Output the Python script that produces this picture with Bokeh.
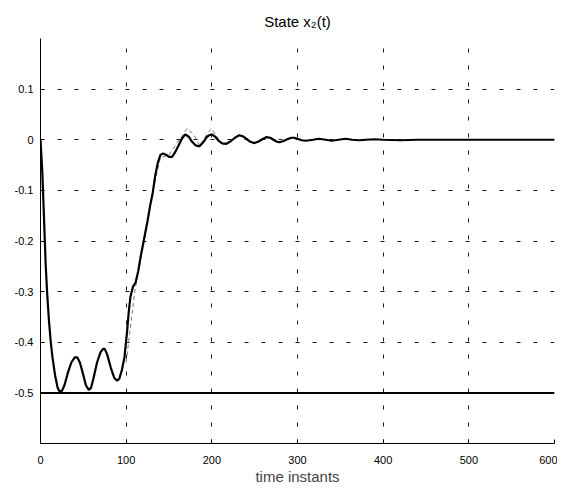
from bokeh.plotting import figure
from bokeh.models import Range1d, FixedTicker, Title
from bokeh.embed import file_html
from bokeh.resources import INLINE

# ---- data ----
t_state = [0, 2, 4, 6, 8, 10, 12, 14, 17, 20, 22.5, 25, 28, 32, 36, 40, 43, 46, 50, 53,
           56.4, 59, 62, 66, 70, 73, 75, 78, 82, 86, 89.5, 92, 95, 98, 101, 103, 105, 108,
           111, 114, 117, 121, 125, 128, 131, 134, 137, 140, 143, 147, 150, 153.6, 157, 161,
           165, 169, 173, 177, 181, 185.5, 190, 194, 197, 200, 204, 208, 212, 217, 222, 227,
           232, 236, 241, 245, 249, 254, 259, 264, 268, 272, 276, 279, 283, 288, 293, 296,
           300, 305, 310, 318, 325, 333, 340, 348, 356, 364, 372, 380, 390, 400, 420, 440,
           470, 600]
x2_state = [0, -0.06, -0.15, -0.245, -0.31, -0.36, -0.40, -0.43, -0.465, -0.49, -0.498,
            -0.496, -0.485, -0.46, -0.44, -0.43, -0.43, -0.44, -0.465, -0.485, -0.494, -0.49,
            -0.47, -0.44, -0.42, -0.413, -0.413, -0.425, -0.45, -0.47, -0.476, -0.472, -0.455,
            -0.43, -0.38, -0.34, -0.31, -0.29, -0.282, -0.26, -0.23, -0.195, -0.16, -0.13,
            -0.105, -0.07, -0.045, -0.03, -0.027, -0.03, -0.034, -0.034, -0.025, -0.012,
            0.002, 0.0105, 0.006, -0.004, -0.011, -0.013, -0.005, 0.005, 0.009, 0.0105, 0.006,
            -0.002, -0.007, -0.008, -0.003, 0.004, 0.009, 0.007, 0.001, -0.004, -0.0066,
            -0.004, 0.001, 0.0053, 0.004, 0.0, -0.004, -0.005, -0.003, 0.001, 0.004, 0.004,
            0.002, -0.001, -0.002, 0.0, 0.002, 0.0, -0.002, 0.0, 0.002, 0.0, -0.001, 0.0,
            0.001, 0.0, -0.001, 0.0, 0.0, 0.0]

t_ref = [100, 110, 120, 130, 140, 150, 160, 171, 179, 186, 195, 200, 208]
x2_ref = [-0.44, -0.30, -0.21, -0.11, -0.035, -0.03, -0.005, 0.022, 0.01, -0.012, 0.014,
          0.022, 0.0]

t_bound = [0, 600]
x2_bound = [-0.5, -0.5]

x_ticks = [0, 100, 200, 300, 400, 500, 600]
y_ticks = [-0.5, -0.4, -0.3, -0.2, -0.1, 0, 0.1]
y_tick_labels = {-0.5: "-0.5", -0.4: "-0.4", -0.3: "-0.3", -0.2: "-0.2", -0.1: "-0.1",
                 0: "0", 0.1: "0.1"}

FONT = "Liberation Sans"

p = figure(frame_width=514, frame_height=405, output_backend="svg", toolbar_location=None,
           x_range=Range1d(0, 600), y_range=Range1d(-0.6, 0.2), title=None,
           min_border_left=40, min_border_right=3, min_border_top=38, min_border_bottom=38)
p.outline_line_color = None
p.background_fill_color = "white"
p.border_fill_color = "white"

for ax in (p.xaxis[0], p.yaxis[0]):
    ax.axis_line_color = "black"
    ax.axis_line_width = 1
    ax.major_tick_in = 4
    ax.major_tick_out = 0
    ax.minor_tick_line_color = None
    ax.major_tick_line_color = "black"
    ax.major_label_text_font = FONT
    ax.major_label_text_font_size = "11px"
    ax.major_label_text_color = "black"

p.xaxis.ticker = FixedTicker(ticks=x_ticks)
p.yaxis.ticker = FixedTicker(ticks=y_ticks)
p.yaxis.major_label_overrides = y_tick_labels
p.xaxis.major_label_standoff = 12
p.yaxis.major_label_standoff = 7
p.xaxis.axis_label = "time instants"
p.xaxis.axis_label_text_font = FONT
p.xaxis.axis_label_text_font_size = "15px"
p.xaxis.axis_label_text_font_style = "normal"
p.xaxis.axis_label_standoff = 1

for g in (p.xgrid[0], p.ygrid[0]):
    g.grid_line_color = "black"
    g.grid_line_dash = "4 13"
    g.grid_line_width = 1
    g.grid_line_alpha = 0.9
p.xgrid.ticker = FixedTicker(ticks=x_ticks)
p.ygrid.ticker = FixedTicker(ticks=y_ticks)

p.line(t_bound, x2_bound, line_color="black", line_width=2)
p.line(t_ref, x2_ref, line_color="#777777", line_width=1, line_dash="4 3")
p.line(t_state, x2_state, line_color="black", line_width=2.2)

# spacer (closest to the frame) then the real title above it
p.add_layout(Title(text=" ", text_font=FONT, text_font_size="7px", standoff=0), "above")
p.add_layout(Title(text="State x\u2082(t)", align="center",
                   text_font=FONT, text_font_size="15px", text_font_style="normal",
                   text_color="black", standoff=0), "above")

open("out.html", "w").write(file_html(p, INLINE))
